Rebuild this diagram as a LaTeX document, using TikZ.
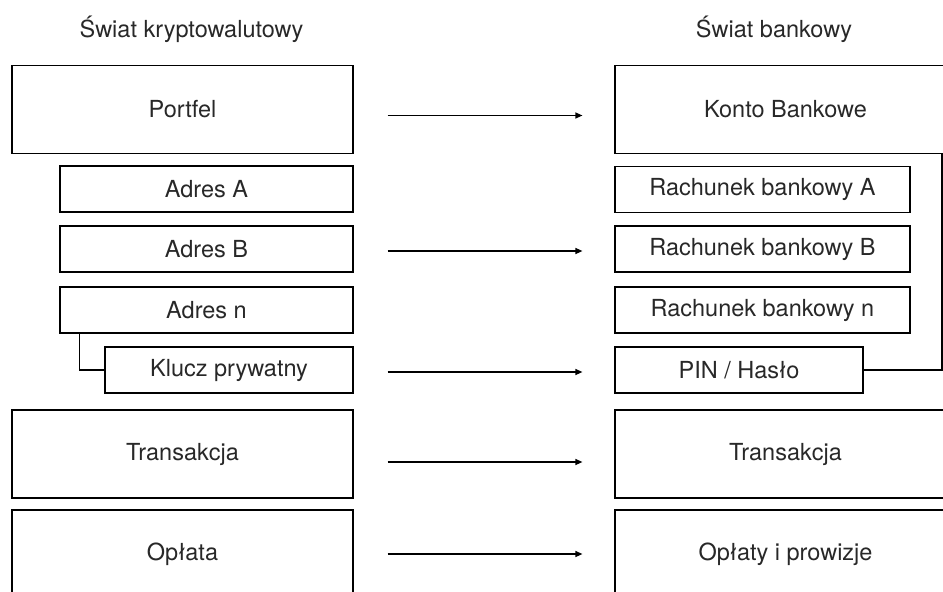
\documentclass[tikz,border=0pt]{standalone}
\usepackage{fontspec}
\setmainfont{TeX Gyre Heros}
\usepackage{tikz}
\usetikzlibrary{arrows.meta, positioning}
\definecolor{txtgray}{RGB}{40,40,40}

\begin{document}
\begin{tikzpicture}[
      x=1pt, y=-1pt,
      box/.style={draw, line width=1.2pt, inner sep=0pt, minimum height=46pt, align=center,
        text=txtgray, font=\fontsize{23.5}{27}\selectfont},
      bigbox/.style={box, minimum width=341pt, minimum height=88pt},
      title/.style={text=txtgray, font=\fontsize{23.5}{27}\selectfont},
      arr/.style={-{Triangle[length=7pt, width=6pt]}, line width=1.2pt, shorten <=34pt, shorten >=32pt},
      link/.style={line width=1.2pt}
    ]
      \useasboundingbox (0,0) rectangle (943,592);
      \clip (0,0) rectangle (943,592);

      % Titles
      \node[title] (crypto) at (191.5,29) {Świat kryptowalutowy};
      \node[title] (bank) at (774,29) {Świat bankowy};

      % Left column
      \node[bigbox] (portfel) at (182.5,109.5) {Portfel};
      \node[box, minimum width=293pt] (adresA) at (206.5,189) {Adres A};
      \node[box, minimum width=293pt] (adresB) at (206.5,249) {Adres B};
      \node[box, minimum width=293pt] (adresN) at (206.5,310) {Adres n};
      \node[box, minimum width=248pt] (klucz) at (229,370) {Klucz prywatny};
      \node[bigbox] (transL) at (182.5,454) {Transakcja};
      \node[bigbox] (oplata) at (182.5,554) {Opłata};

      % Right column
      \node[bigbox] (konto) at (785.5,109.5) {Konto Bankowe};
      \node[box, minimum width=295pt] (rachA) at (762.5,189.5) {Rachunek bankowy A};
      \node[box, minimum width=295pt] (rachB) at (762.5,249) {Rachunek bankowy B};
      \node[box, minimum width=295pt] (rachN) at (762.5,310) {Rachunek bankowy n};
      \node[box, minimum width=248pt] (pin) at (739,370) {PIN / Hasło};
      \node[bigbox] (transR) at (785.5,454) {Transakcja};
      \node[bigbox] (oplaty) at (785.5,554) {Opłaty i prowizje};

      \coordinate (edge) at (942,0);

      % Links
      \draw[link] ([xshift=20pt]adresN.south west) |- (klucz.west);
      \draw[link] (pin.east) -| (konto.south -| edge);

      % Arrows
      \draw[arr] ([yshift=-6pt]portfel.east) -- ([yshift=-6pt]konto.west);
      \draw[arr] ([yshift=-2pt]adresB.east) -- ([yshift=-2pt]rachB.west);
      \draw[arr] ([yshift=-2pt]klucz.east) -- ([yshift=-2pt]pin.west);
      \draw[arr] ([yshift=-8pt]transL.east) -- ([yshift=-8pt]transR.west);
      \draw[arr] (oplata.east) -- (oplaty.west);
    \end{tikzpicture}
\end{document}
